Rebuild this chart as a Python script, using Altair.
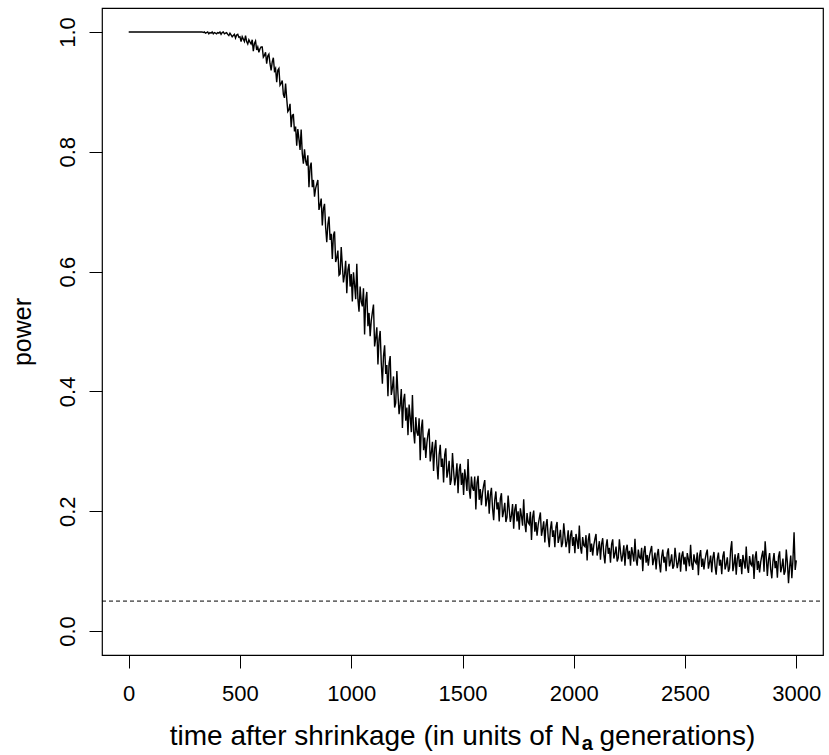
import altair as alt
import pandas as pd

# power values, one every 5 time units (0, 5, 10, ...)
power_0_395 = [1.0] * 67 + [
    0.999, 1.0, 0.998, 0.999, 1.0, 0.997, 0.999, 0.998, 1.0, 0.997, 0.999, 0.998, 0.997]
power_400_695 = [
    0.999, 0.998, 1.0, 0.996, 0.999, 1.0, 0.997, 0.998, 0.999, 0.996,
    0.994, 0.998, 0.995, 0.992, 0.994, 0.996, 0.990, 0.995, 0.996, 0.991,
    0.992, 0.984, 0.992, 0.988, 0.984, 0.994, 0.984, 0.980, 0.987, 0.983,
    0.980, 0.987, 0.968, 0.981, 0.985, 0.970, 0.975, 0.966, 0.972, 0.975,
    0.975, 0.958, 0.961, 0.966, 0.947, 0.960, 0.963, 0.947, 0.936, 0.950,
    0.957, 0.935, 0.939, 0.916, 0.936, 0.939, 0.911, 0.914, 0.919, 0.896]
power_700_995 = [
    0.890, 0.914, 0.889, 0.867, 0.870, 0.880, 0.841, 0.861, 0.862, 0.834,
    0.842, 0.810, 0.838, 0.821, 0.803, 0.837, 0.797, 0.780, 0.804, 0.785,
    0.777, 0.794, 0.741, 0.775, 0.782, 0.741, 0.753, 0.725, 0.739, 0.746,
    0.753, 0.703, 0.711, 0.722, 0.677, 0.705, 0.713, 0.674, 0.649, 0.679,
    0.692, 0.653, 0.663, 0.621, 0.661, 0.667, 0.616, 0.623, 0.635, 0.594,
    0.596, 0.641, 0.610, 0.582, 0.595, 0.618, 0.564, 0.603, 0.613, 0.575]
power_1000_1295 = [
    0.596, 0.550, 0.599, 0.578, 0.554, 0.613, 0.554, 0.533, 0.575, 0.550,
    0.542, 0.572, 0.495, 0.552, 0.566, 0.509, 0.531, 0.492, 0.518, 0.532,
    0.545, 0.475, 0.489, 0.507, 0.445, 0.487, 0.501, 0.447, 0.413, 0.459,
    0.477, 0.429, 0.444, 0.392, 0.447, 0.459, 0.394, 0.406, 0.425, 0.373,
    0.381, 0.434, 0.396, 0.362, 0.377, 0.404, 0.339, 0.385, 0.396, 0.351,
    0.373, 0.327, 0.378, 0.357, 0.332, 0.394, 0.334, 0.313, 0.357, 0.332]
power_1300_1595 = [
    0.326, 0.355, 0.285, 0.339, 0.353, 0.302, 0.323, 0.289, 0.314, 0.329,
    0.338, 0.283, 0.298, 0.316, 0.267, 0.305, 0.319, 0.278, 0.253, 0.294,
    0.311, 0.274, 0.288, 0.248, 0.294, 0.305, 0.256, 0.267, 0.284, 0.244,
    0.253, 0.297, 0.268, 0.243, 0.257, 0.280, 0.230, 0.268, 0.279, 0.244,
    0.264, 0.227, 0.270, 0.254, 0.234, 0.287, 0.237, 0.221, 0.258, 0.239,
    0.234, 0.258, 0.203, 0.247, 0.259, 0.219, 0.237, 0.210, 0.231, 0.243]
power_1600_1895 = [
    0.252, 0.208, 0.220, 0.235, 0.196, 0.227, 0.239, 0.205, 0.185, 0.219,
    0.233, 0.203, 0.215, 0.183, 0.221, 0.230, 0.190, 0.200, 0.214, 0.182,
    0.190, 0.226, 0.203, 0.182, 0.193, 0.212, 0.171, 0.203, 0.212, 0.183,
    0.200, 0.169, 0.205, 0.192, 0.176, 0.220, 0.179, 0.165, 0.197, 0.181,
    0.178, 0.199, 0.152, 0.190, 0.201, 0.166, 0.182, 0.159, 0.177, 0.188,
    0.198, 0.159, 0.170, 0.183, 0.148, 0.176, 0.187, 0.157, 0.140, 0.170]
power_1900_2195 = [
    0.183, 0.157, 0.168, 0.140, 0.174, 0.182, 0.147, 0.156, 0.169, 0.140,
    0.147, 0.180, 0.159, 0.140, 0.150, 0.168, 0.130, 0.159, 0.168, 0.142,
    0.157, 0.130, 0.162, 0.151, 0.137, 0.176, 0.140, 0.129, 0.157, 0.143,
    0.141, 0.160, 0.118, 0.152, 0.163, 0.132, 0.146, 0.126, 0.143, 0.154,
    0.162, 0.126, 0.137, 0.150, 0.119, 0.145, 0.155, 0.128, 0.113, 0.141,
    0.153, 0.129, 0.139, 0.114, 0.145, 0.153, 0.121, 0.129, 0.141, 0.116]
power_2200_2495 = [
    0.122, 0.153, 0.133, 0.116, 0.126, 0.143, 0.109, 0.136, 0.144, 0.120,
    0.134, 0.109, 0.140, 0.129, 0.116, 0.154, 0.120, 0.109, 0.136, 0.123,
    0.121, 0.139, 0.100, 0.132, 0.142, 0.114, 0.127, 0.109, 0.125, 0.134,
    0.142, 0.110, 0.120, 0.131, 0.103, 0.127, 0.137, 0.113, 0.098, 0.124,
    0.136, 0.114, 0.124, 0.100, 0.130, 0.138, 0.108, 0.116, 0.128, 0.104,
    0.109, 0.139, 0.121, 0.105, 0.115, 0.131, 0.099, 0.125, 0.133, 0.111]
power_2500_2795 = [
    0.124, 0.100, 0.130, 0.120, 0.108, 0.144, 0.112, 0.102, 0.128, 0.116,
    0.113, 0.131, 0.093, 0.125, 0.135, 0.107, 0.121, 0.103, 0.119, 0.129,
    0.136, 0.104, 0.114, 0.126, 0.098, 0.122, 0.132, 0.108, 0.094, 0.120,
    0.131, 0.109, 0.119, 0.095, 0.125, 0.133, 0.103, 0.111, 0.123, 0.099,
    0.105, 0.136, 0.150, 0.100, 0.111, 0.128, 0.094, 0.121, 0.130, 0.107,
    0.120, 0.095, 0.127, 0.116, 0.104, 0.141, 0.108, 0.097, 0.125, 0.112]
power_2800_3000 = [
    0.109, 0.128, 0.087, 0.122, 0.133, 0.102, 0.117, 0.098, 0.115, 0.126,
    0.134, 0.099, 0.150, 0.123, 0.092, 0.119, 0.130, 0.103, 0.088, 0.116,
    0.130, 0.105, 0.117, 0.089, 0.124, 0.133, 0.098, 0.107, 0.121, 0.094,
    0.100, 0.136, 0.114, 0.080, 0.107, 0.126, 0.088, 0.119, 0.165, 0.102,
    0.118]

STEP = 5
alpha_level = 0.05
x_ticks = [0, 500, 1000, 1500, 2000, 2500, 3000]
y_ticks = [0.0, 0.2, 0.4, 0.6, 0.8, 1.0]

power = (power_0_395 + power_400_695 + power_700_995 + power_1000_1295 +
         power_1300_1595 + power_1600_1895 + power_1900_2195 +
         power_2200_2495 + power_2500_2795 + power_2800_3000)
df = pd.DataFrame({"time": [STEP * i for i in range(len(power))], "power": power})

W, H = 721, 647
FONT = "Liberation Sans"
TICK_FS = 22
YTITLE_FS = 25
TITLE_FS = 28

xscale = alt.Scale(domain=[-120, 3120], nice=False, zero=False)
yscale = alt.Scale(domain=[-0.04, 1.04], nice=False, zero=False)

line = alt.Chart(df).mark_line(color="black", strokeWidth=1.4).encode(
    x=alt.X("time:Q", scale=xscale,
            axis=alt.Axis(values=x_ticks, format="d", title=None, grid=False,
                          domain=False, tickSize=13, tickColor="black",
                          labelFontSize=TICK_FS, labelColor="black",
                          labelFont=FONT, labelPadding=25,
                          labelBaseline="middle", labelFlush=False)),
    y=alt.Y("power:Q", scale=yscale,
            axis=alt.Axis(values=y_ticks, format=".1f", grid=False,
                          domain=False, tickSize=13, tickColor="black",
                          labelFontSize=TICK_FS, labelColor="black",
                          labelFont=FONT, labelAngle=270, labelAlign="center",
                          labelBaseline="middle", labelPadding=22,
                          labelFlush=False,
                          title="power", titleFont=FONT,
                          titleFontSize=YTITLE_FS, titleFontWeight="normal",
                          titleColor="black", titleAngle=270,
                          titleAlign="center", titleBaseline="middle",
                          titleX=-80, titleY=H / 2)),
)

ref = alt.Chart(pd.DataFrame({"p": [alpha_level]})).mark_rule(
    color="black", strokeWidth=1, strokeDash=[4, 3]).encode(
    y=alt.Y("p:Q", scale=yscale), x=alt.value(0), x2=alt.value(W))

# x-axis title with a bold subscript "a"
left_txt = "time after shrinkage (in units of N"
right_txt = "generations)"
SUB_FS = round(TITLE_FS * 0.7)
left_w = 14.672 * TITLE_FS
sub_w = 0.556 * SUB_FS
space_w = 0.278 * TITLE_FS
right_w = 5.558 * TITLE_FS
total = left_w + sub_w + space_w + right_w
start = W / 2 - total / 2
TY = H + 82

t1 = alt.Chart(pd.DataFrame({"t": [left_txt]})).mark_text(
    align="right", baseline="middle", font=FONT, fontSize=TITLE_FS,
    color="black").encode(text="t:N", x=alt.value(start + left_w),
                          y=alt.value(TY))
t2 = alt.Chart(pd.DataFrame({"t": ["a"]})).mark_text(
    align="left", baseline="middle", font=FONT, fontSize=SUB_FS,
    fontWeight="bold", color="black").encode(
    text="t:N", x=alt.value(start + left_w + 1), y=alt.value(TY + 7))
t3 = alt.Chart(pd.DataFrame({"t": [right_txt]})).mark_text(
    align="left", baseline="middle", font=FONT, fontSize=TITLE_FS,
    color="black").encode(text="t:N",
                          x=alt.value(start + left_w + sub_w + space_w),
                          y=alt.value(TY))

chart = alt.layer(line, ref, t1, t2, t3).properties(
    width=W, height=H,
    padding={"left": 102, "top": 8, "right": 6, "bottom": 100},
    autosize=alt.AutoSizeParams(type="none"),
    background="white",
).configure_view(stroke="black", strokeWidth=1.2)

chart.save("out.html", embed_options={"renderer": "svg", "actions": False})
